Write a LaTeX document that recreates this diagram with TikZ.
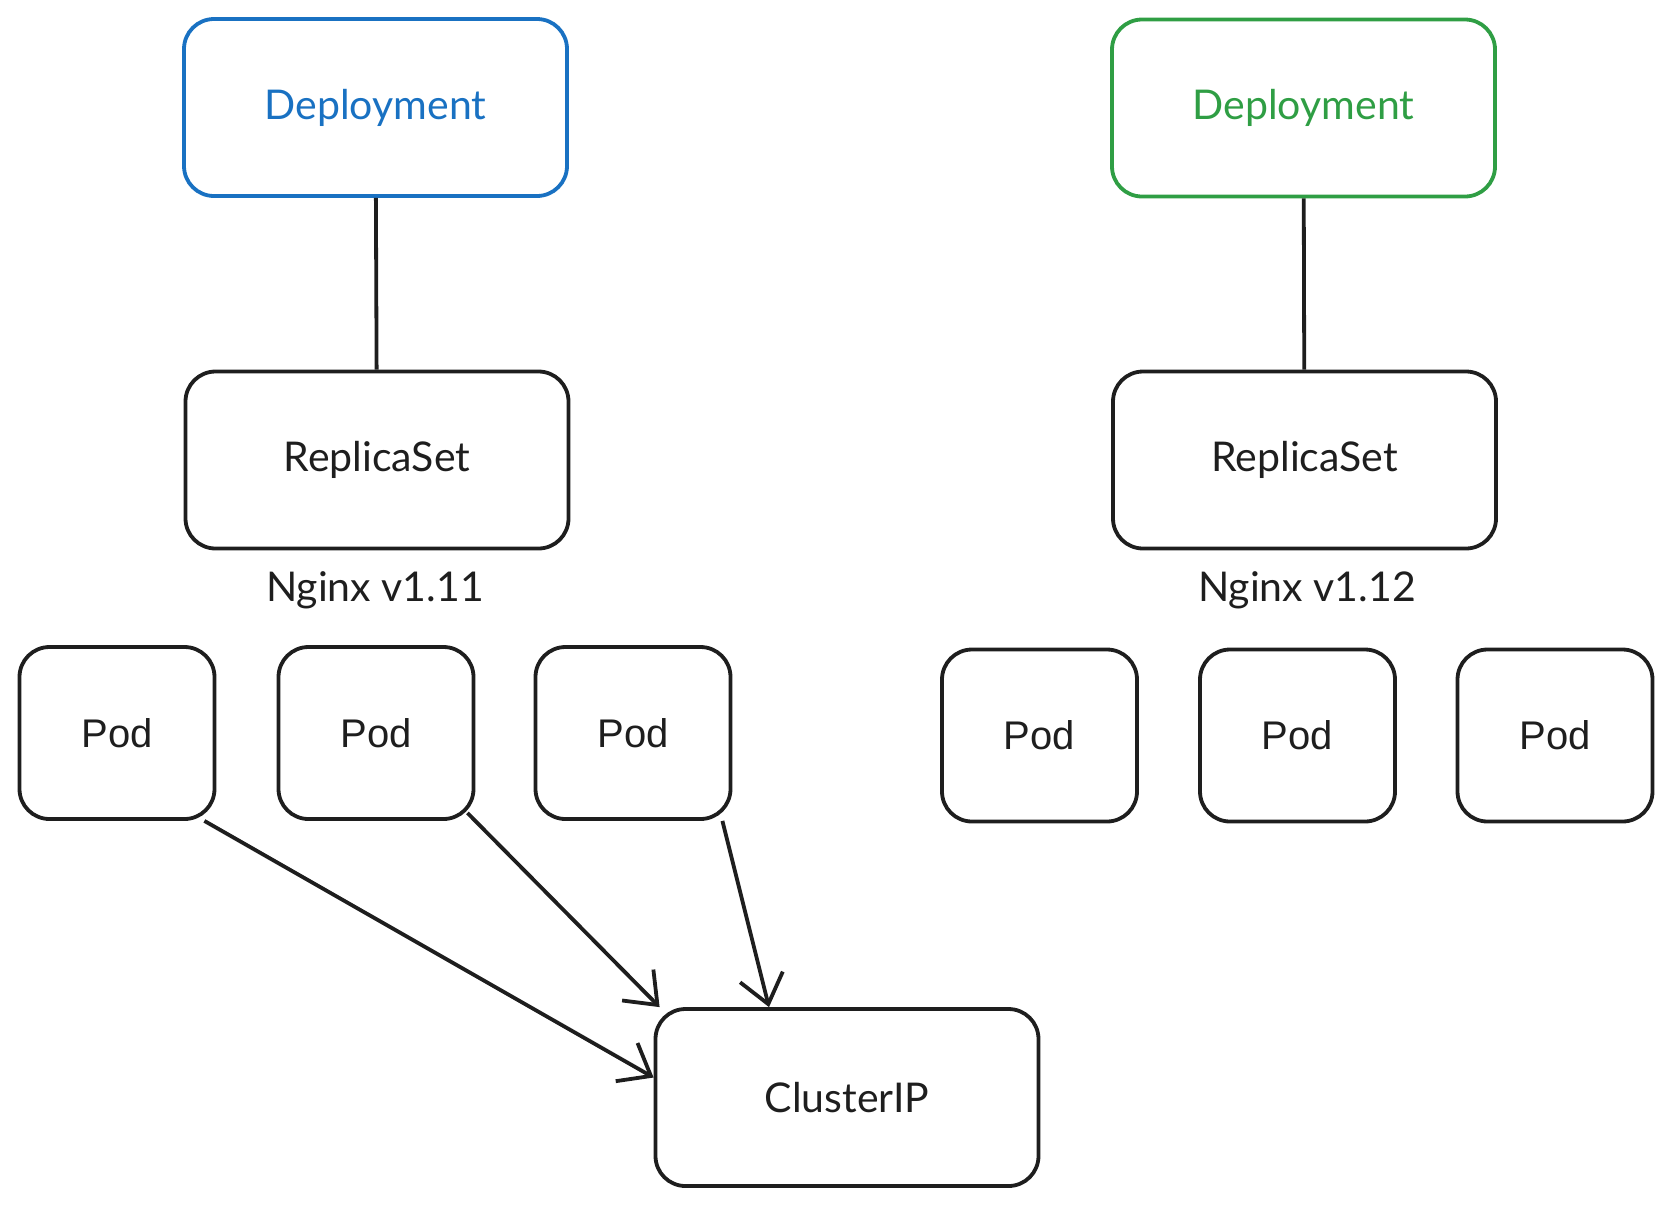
\documentclass[tikz,border=0pt]{standalone}
\usepackage{fontspec}
\setmainfont{Lato}
\newfontfamily\podfont{Liberation Sans}
\usetikzlibrary{arrows.meta}
\definecolor{ink}{HTML}{1E1E1E}
\definecolor{depblue}{HTML}{1971C2}
\definecolor{depgreen}{HTML}{2F9E44}
\begin{document}
\begin{tikzpicture}[x=0.5pt,y=-0.5pt,
  box/.style={draw=ink,line width=1.9pt,rounded corners=15pt,text=ink,
    font=\fontsize{20.5}{24}\selectfont},
  bigbox/.style={box,minimum width=191.5pt,minimum height=88.5pt},
  podbox/.style={box,minimum width=97.5pt,minimum height=86pt,
    font=\podfont\fontsize{20}{24}\selectfont},
  label/.style={text=ink,font=\fontsize{20.5}{24}\selectfont},
  link/.style={draw=ink,line width=1.9pt},
  flow/.style={link,-{Straight Barb[length=14pt,width=22pt,line width=1.9pt]}}]
  \useasboundingbox (0,0) rectangle (1672,1206);
  \node [bigbox,draw=depblue,text=depblue] (depL) at (375.5,107.5) {Deployment};
  \node [bigbox,draw=depgreen,text=depgreen] (depR) at (1303.5,108) {Deployment};
  \node [bigbox] (rsL) at (377,460) {ReplicaSet};
  \node [bigbox] (rsR) at (1304.5,460) {ReplicaSet};
  \node [label] (verL) at (375,590) {Nginx v1.11};
  \node [label] (verR) at (1307,590) {Nginx v1.12};
  \node [podbox] (podL1) at (117,733) {Pod};
  \node [podbox] (podL2) at (376,733) {Pod};
  \node [podbox] (podL3) at (633,733) {Pod};
  \node [podbox] (podR1) at (1039.5,735.5) {Pod};
  \node [podbox] (podR2) at (1297.5,735.5) {Pod};
  \node [podbox] (podR3) at (1555,735.5) {Pod};
  \node [bigbox] (cip) at (847,1097.5) {ClusterIP};
  \draw [link] (depL) -- (rsL);
  \draw [link] (depR) -- (rsR);
  % pods of v1.11 behind the service
  \draw [flow] ([xshift=-6pt]podL1.south east) -- ([yshift=10pt]cip.west);
  \draw [flow] ([xshift=-4pt,yshift=4pt]podL2.south east) -- ([xshift=3pt]cip.north west);
  \draw [flow] ([xshift=-5pt]podL3.south east) -- ([xshift=-39pt]cip.north);
\end{tikzpicture}
\end{document}
